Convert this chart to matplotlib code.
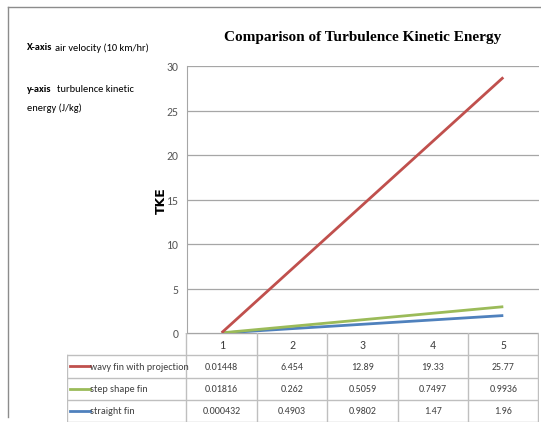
import matplotlib
matplotlib.use("Agg")
import matplotlib.pyplot as plt
from matplotlib import font_manager
import numpy as np

# dados do gráfico
categorias = [1, 2, 3, 4, 5]
series_nomes = ["wavy fin with projection", "step shape fin", "straight fin"]
wavy = [0.01448, 6.454, 12.89, 19.33, 25.77]
step = [0.01816, 0.262, 0.5059, 0.7497, 0.9936]
straight = [0.000432, 0.4903, 0.9802, 1.47, 1.96]
cores = ["#c0504d", "#9bbb59", "#4f81bd"]
y_ticks = [0, 5, 10, 15, 20, 25, 30]

# fonte estreita tipo Calibri, se houver
instaladas = {f.name for f in font_manager.fontManager.ttflist}
if "Carlito" in instaladas:
    fonte = ["Carlito", "DejaVu Sans"]
    fs = 7.2
else:
    fonte = ["Liberation Sans", "DejaVu Sans"]
    fs = 6.2
plt.rcParams["font.family"] = fonte

W, H = 541, 427
fig = plt.figure(figsize=(W / 100, H / 100), dpi=100)

def fx(px):
    return px / W

def fy(py):
    return 1 - py / H

# moldura externa
fig.add_artist(plt.Line2D([fx(8), fx(8)], [fy(8), fy(418)], color="#8c8c8c", lw=1))
fig.add_artist(plt.Line2D([fx(8), 1], [fy(8), fy(8)], color="#8c8c8c", lw=1))

# eixo principal (gráfico de linhas empilhado)
x0, x1 = 186.5, 538.5
ytop, ybot = 67, 334
ax = fig.add_axes([fx(x0), fy(ybot), fx(x1) - fx(x0), fy(ytop) - fy(ybot)])

empilhado = np.cumsum([straight, step, wavy], axis=0)
ax.plot(categorias, empilhado[0], color=cores[2], lw=2, solid_capstyle="butt", zorder=3)
ax.plot(categorias, empilhado[1], color=cores[1], lw=2, solid_capstyle="butt", zorder=3)
ax.plot(categorias, empilhado[2], color=cores[0], lw=2, solid_capstyle="butt", zorder=3)

ax.set_xlim(0.5, 5.5)
ax.set_ylim(0, 30)
ax.set_yticks(y_ticks)
ax.set_yticklabels([str(t) for t in y_ticks], color="#595959", fontsize=fs + 1.3)
ax.tick_params(axis="y", length=0, pad=6)
ax.set_xticks([])
ax.grid(axis="y", color="#a6a6a6", lw=0.9)
ax.set_axisbelow(True)
for lado in ["top", "right", "bottom"]:
    ax.spines[lado].set_visible(False)
ax.spines["left"].set_color("#a6a6a6")
ax.set_ylabel("TKE", fontsize=9, fontweight="bold", family="DejaVu Sans", labelpad=-1)

# tabela de dados abaixo do gráfico
xt0 = 67
tbot = 423
ax_t = fig.add_axes([fx(xt0), fy(tbot), fx(x1) - fx(xt0), fy(ybot) - fy(tbot)])
largura_leg = (x0 - xt0) / ((x1 - x0) / 5)
ax_t.set_xlim(0.5 - largura_leg, 5.5)
ax_t.set_ylim(0, 4)
ax_t.axis("off")
cor_tab = "#bfbfbf"
ax_t.plot([0.5, 5.5], [4, 4], color="#a6a6a6", lw=1)
for y in [0, 1, 2, 3]:
    ax_t.plot([0.5 - largura_leg, 5.5], [y, y], color=cor_tab, lw=1)
for xb in [0.5, 1.5, 2.5, 3.5, 4.5, 5.5]:
    ax_t.plot([xb, xb], [0, 4], color=cor_tab, lw=1)
ax_t.plot([0.5 - largura_leg] * 2, [0, 3], color=cor_tab, lw=1)

for c in categorias:
    ax_t.text(c, 3.5, str(c), ha="center", va="center", fontsize=fs + 1.3, color="#404040")

linhas = [wavy, step, straight]
for i, (nome, vals, cor) in enumerate(zip(series_nomes, linhas, cores)):
    yc = 2.5 - i
    xl = 0.5 - largura_leg
    ax_t.plot([xl + 0.04, xl + 0.32], [yc, yc], color=cor, lw=2)
    ax_t.text(xl + 0.33, yc, nome, ha="left", va="center", fontsize=fs, color="#404040")
    for c, v in zip(categorias, vals):
        ax_t.text(c, yc, str(v), ha="center", va="center", fontsize=fs, color="#404040")

# título e textos laterais
fig.text(fx(363), fy(38), "Comparison of Turbulence Kinetic Energy", ha="center", va="center",
         family="Liberation Serif", fontweight="bold", fontsize=11)
fig.text(fx(27), fy(48), "X-axis", ha="left", va="center", fontsize=fs + 0.3, fontweight="bold")
fig.text(fx(55), fy(48), "air velocity (10 km/hr)", ha="left", va="center", fontsize=fs + 0.3)
fig.text(fx(27), fy(90), "y-axis", ha="left", va="center", fontsize=fs + 0.3, fontweight="bold")
fig.text(fx(57), fy(90), "turbulence kinetic", ha="left", va="center", fontsize=fs + 0.3)
fig.text(fx(27), fy(108), "energy (J/kg)", ha="left", va="center", fontsize=fs + 0.3)

fig.savefig("out.png", dpi=100)
